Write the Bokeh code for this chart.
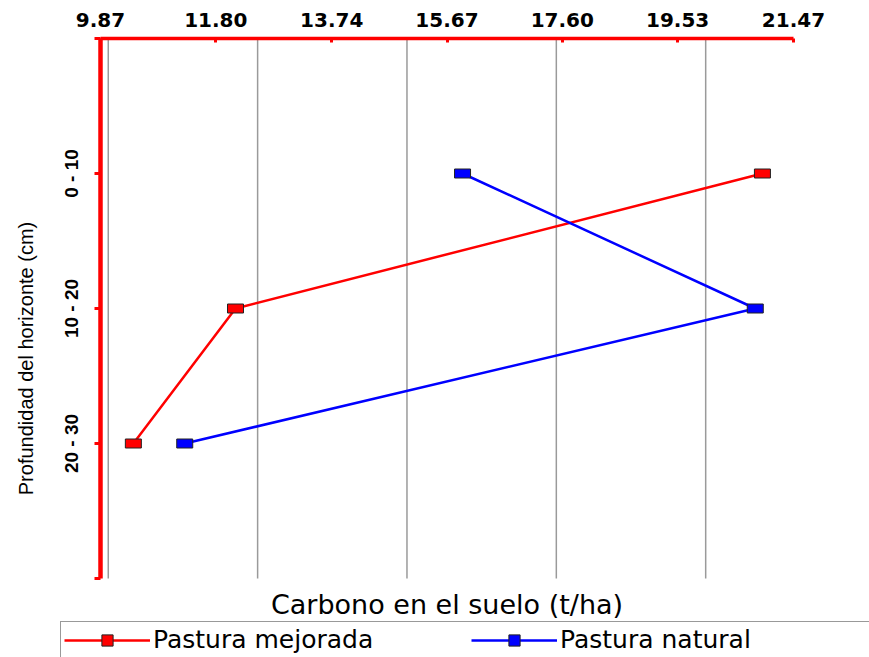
import math
from bokeh.plotting import figure
from bokeh.models import (Range1d, FixedTicker, Legend, LegendItem, Label,
                          PrintfTickFormatter)
from bokeh.embed import file_html
from bokeh.resources import INLINE

# ---- data ----
depth_labels = ["0 - 10", "10 - 20", "20 - 30"]
depth_pos = [1, 2, 3]
depth_ticks = [0, 1, 2, 3, 4]
mejorada = [20.95, 12.13, 10.42]      # Pastura mejorada (t/ha)
natural = [15.93, 20.83, 11.28]       # Pastura natural (t/ha)
top_ticks = [9.87, 11.80, 13.74, 15.67, 17.60, 19.53, 21.47]
top_tick_labels = ["9.87", "11.80", "13.74", "15.67", "17.60", "19.53", "21.47"]
grid_ticks = [10, 12.5, 15, 17.5, 20]

X_MIN, X_MAX = top_ticks[0], top_ticks[-1]
D_MIN, D_MAX = depth_ticks[0], depth_ticks[-1]

# canvas geometry: axis box from x=100..793 px and y=38..578 px
W, H = 869, 657
L, R, T, B = 100, 793, 38, 578
xs = (X_MAX - X_MIN) / (R - L)
ys = (D_MAX - D_MIN) / (B - T)
x_range = Range1d(X_MIN - L * xs, X_MAX + (W - R) * xs)
y_range = Range1d(D_MAX + (H - B) * ys, D_MIN - T * ys)

p = figure(width=W, height=H, output_backend="svg", toolbar_location=None,
           x_range=x_range, y_range=y_range, x_axis_location="above",
           min_border=0)
p.outline_line_color = None
p.background_fill_color = "white"
p.border_fill_color = "white"
p.xgrid.visible = False
p.ygrid.visible = False

# grid lines at round values, spanning only the depth axis
p.segment(x0=grid_ticks, y0=[D_MIN] * len(grid_ticks), x1=grid_ticks,
          y1=[D_MAX] * len(grid_ticks), line_color="#9a9a9a", line_width=1.5)

# top axis
xa = p.xaxis[0]
xa.fixed_location = D_MIN
xa.bounds = (X_MIN, X_MAX)
xa.ticker = FixedTicker(ticks=top_ticks)
xa.formatter = PrintfTickFormatter(format="%.2f")
xa.major_label_overrides = dict(zip(top_ticks, top_tick_labels))
xa.minor_tick_line_color = None
xa.axis_line_color = "red"
xa.axis_line_width = 3.5
xa.major_tick_line_color = "red"
xa.major_tick_line_width = 3
xa.major_tick_in = 4
xa.major_tick_out = 0
xa.major_label_standoff = 12
xa.major_label_text_font = "DejaVu Sans"
xa.major_label_text_font_style = "bold"
xa.major_label_text_font_size = "20px"
xa.major_label_text_color = "black"

# left axis
ya = p.yaxis[0]
ya.fixed_location = X_MIN
ya.bounds = (D_MIN, D_MAX)
ya.ticker = FixedTicker(ticks=depth_ticks)
ya.major_label_overrides = {0: "", 1: depth_labels[0], 2: depth_labels[1],
                            3: depth_labels[2], 4: ""}
ya.minor_tick_line_color = None
ya.axis_line_color = "red"
ya.axis_line_width = 4.5
ya.major_tick_line_color = "red"
ya.major_tick_line_width = 3
ya.major_tick_in = 0
ya.major_tick_out = 6
ya.major_label_orientation = "vertical"
ya.major_label_standoff = 13
ya.major_label_text_font = "Liberation Sans"
ya.major_label_text_font_style = "bold"
ya.major_label_text_font_size = "19px"
ya.major_label_text_color = "black"

# axis titles
p.add_layout(Label(x=(X_MIN + X_MAX) / 2, y=D_MAX + 26 * ys,
                   text="Carbono en el suelo (t/ha)", text_align="center",
                   text_baseline="middle", text_font="DejaVu Sans",
                   text_font_size="27px", text_color="black"))
p.add_layout(Label(x=X_MIN - 75 * xs, y=D_MIN + 320 * ys,
                   text="Profundidad del horizonte (cm)", angle=math.pi / 2,
                   text_align="center", text_baseline="middle",
                   text_font="Liberation Sans", text_font_size="20px",
                   text_color="black"))

# series
l1 = p.line(mejorada, depth_pos, line_color="red", line_width=2.5)
p.rect(x=mejorada, y=depth_pos, width=16, height=9, width_units="screen",
       height_units="screen", fill_color="red", line_color="#222222", line_width=1)
k1 = p.scatter(mejorada, depth_pos, marker="square", size=13, fill_color="red",
               line_color="#222222", line_width=1, visible=False)

l2 = p.line(natural, depth_pos, line_color="blue", line_width=2.5)
p.rect(x=natural, y=depth_pos, width=16, height=9, width_units="screen",
       height_units="screen", fill_color="blue", line_color="#222222", line_width=1)
k2 = p.scatter(natural, depth_pos, marker="square", size=13, fill_color="blue",
               line_color="#222222", line_width=1, visible=False)

legend = Legend(items=[LegendItem(label="Pastura mejorada", renderers=[l1, k1]),
                       LegendItem(label="Pastura natural", renderers=[l2, k2])],
                orientation="horizontal", location=(60, -1),
                glyph_width=86, glyph_height=28, label_standoff=3,
                label_width=310, spacing=8, padding=3, margin=0,
                label_text_font="DejaVu Sans", label_text_font_size="25px",
                label_text_color="black",
                border_line_color="#333333", border_line_width=1.5,
                background_fill_color="white", background_fill_alpha=1)
p.add_layout(legend)

open("out.html", "w").write(file_html(p, INLINE))
